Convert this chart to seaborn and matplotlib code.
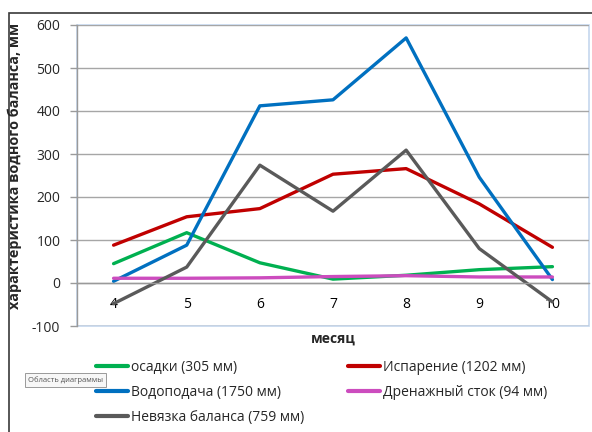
import matplotlib
matplotlib.use("Agg")
import matplotlib.pyplot as plt
import seaborn as sns
import pandas as pd
import numpy as np
from matplotlib.patches import Rectangle
from matplotlib.lines import Line2D

months = ["4", "5", "6", "7", "8", "9", "10"]
osadki = [45, 117, 47, 9, 18, 31, 38]
isparenie = [88, 154, 173, 253, 266, 184, 83]
vodopodacha = [4, 88, 412, 426, 570, 246, 8]
drenazh = [11, 11, 12, 15, 17, 14, 14]
nevyazka = [-48, 37, 274, 167, 309, 80, -44]

series_names = ["осадки (305 мм)", "Испарение (1202 мм)", "Водоподача (1750 мм)",
                "Дренажный сток (94 мм)", "Невязка баланса (759 мм)"]
series_vals = [osadki, isparenie, vodopodacha, drenazh, nevyazka]
colors = ["#00B050", "#C00000", "#0070C0", "#CC4CBE", "#5A5A5A"]

sns.set_theme(style="white")
plt.rcParams["font.family"] = ["Open Sans", "DejaVu Sans"]
plt.rcParams["axes.unicode_minus"] = False

df = pd.DataFrame({
    "month": months * len(series_names),
    "value": sum(series_vals, []),
    "series": sum([[n] * len(months) for n in series_names], []),
})

fig = plt.figure(figsize=(5.92, 4.32), dpi=100)
ax = fig.add_axes([77 / 592, 1 - 326 / 432, (589 - 77) / 592, (326 - 25) / 432])

ax.set_ylim(-100, 600)
ax.set_yticks(range(-100, 601, 100))
ax.yaxis.grid(True, color="#A6A6A6", linewidth=1.0)
ax.set_axisbelow(True)

sns.lineplot(data=df, x="month", y="value", hue="series", palette=colors,
             hue_order=series_names, linewidth=2.4, ax=ax, legend=False, sort=False)

ax.set_xlim(-0.5, len(months) - 0.5)
ax.set_ylim(-100, 600)

ax.spines["bottom"].set_position(("data", 0))
ax.spines["bottom"].set_color("#9A9A9A")
ax.spines["left"].set_color("#9A9A9A")
ax.spines["top"].set_visible(False)
ax.spines["right"].set_visible(False)
ax.spines["bottom"].set_linewidth(1.0)
ax.spines["left"].set_linewidth(1.0)

ax.set_xticks(range(len(months)))
ax.set_xticklabels(months)
ax.set_xticks(np.arange(-0.5, len(months) + 0.5, 1), minor=True)
ax.tick_params(axis="x", which="major", length=0, pad=10, labelsize=10, colors="black")
ax.tick_params(axis="x", which="minor", length=5, direction="out", color="#9A9A9A", width=1)
ax.tick_params(axis="y", length=5, direction="out", color="#9A9A9A", width=1, pad=7,
               labelsize=10, left=True)

ax.add_patch(Rectangle((0, 0), 1, 1, transform=ax.transAxes, fill=False,
                       edgecolor="#C5D7EE", linewidth=1.2, clip_on=False, zorder=0.5))

ax.set_xlabel("")
ax.set_ylabel("")
fig.text(15 / 592, 1 - 166 / 432, "характеристика водного баланса, мм", rotation=90,
         ha="center", va="center", fontsize=10.4, fontweight="bold")
fig.text(333 / 592, 1 - 339 / 432, "месяц", ha="center", va="center",
         fontsize=10, fontweight="bold")

fig.patches.append(Rectangle((9 / 592, -0.1), 1.2, 1 - 13 / 432 + 0.1,
                             transform=fig.transFigure, fill=False,
                             edgecolor="#3A3A3A", linewidth=1.2))

def handles(idx):
    return [Line2D([0], [0], color=colors[i], linewidth=3) for i in idx]

col1 = [0, 2, 4]
col2 = [1, 3]
common = dict(loc="upper left", frameon=False, fontsize=10, handlelength=2.3,
              handletextpad=0.25, labelspacing=0.72, borderaxespad=0, borderpad=0)
leg1 = fig.legend(handles(col1), [series_names[i] for i in col1],
                  bbox_to_anchor=(96 / 592, 1 - 360 / 432), **common)
leg2 = fig.legend(handles(col2), [series_names[i] for i in col2],
                  bbox_to_anchor=(348 / 592, 1 - 360 / 432), **common)

fig.text(28 / 592, 1 - 380 / 432, "Область диаграммы", fontsize=5.5, color="#555555",
         ha="left", va="center",
         bbox=dict(boxstyle="square,pad=0.35", facecolor="#F7F7F7", edgecolor="#9A9A9A",
                   linewidth=0.7))

fig.savefig("out.png", dpi=100)
